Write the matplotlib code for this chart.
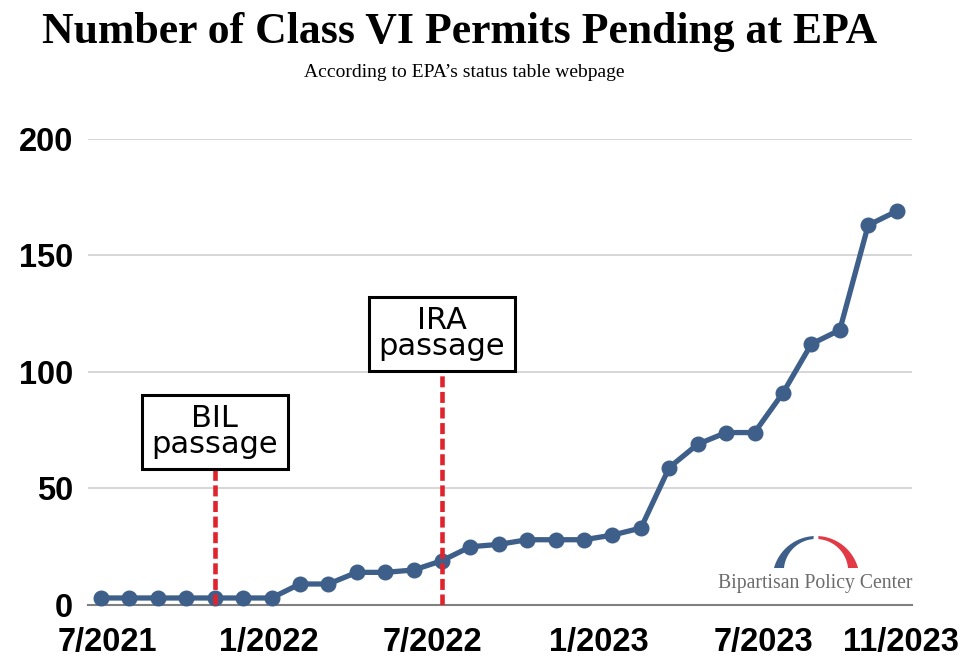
import matplotlib
matplotlib.use("Agg")
import matplotlib.pyplot as plt
import numpy as np
from matplotlib.patches import Polygon

# monthly counts, 7/2021 .. 11/2023
pending = [3, 3, 3, 3, 3, 3, 3, 9, 9, 14, 14, 15, 19, 25, 26, 28, 28, 28,
           30, 33, 59, 69, 74, 74, 91, 112, 118, 163, 169]
months = list(range(len(pending)))

tick_pos = [0.21, 5.91, 11.68, 17.52, 23.32, 28.14]
tick_labels = ["7/2021", "1/2022", "7/2022", "1/2023", "7/2023", "11/2023"]

events = ["BIL\npassage", "IRA\npassage"]
event_month = [4, 12]
event_top = [58, 100]

line_col = "#3e5f8a"
red = "#e0242e"

fig = plt.figure(figsize=(9.74, 6.67), dpi=100)
ax = fig.add_axes([0.0903, 0.093, 0.8457, 0.6986])

ax.plot(months, pending, color=line_col, lw=3.8, marker="o", ms=10.5,
        zorder=3, clip_on=False)

for lab, m, top in zip(events, event_month, event_top):
    ax.plot([m, m], [0, top], color=red, lw=3.3, ls=(0, (2.4, 1.0)), zorder=4)
    # raise the text so the box bottom sits on the top of the dashed line
    ax.annotate(lab, (m, top), xytext=(0, 11), textcoords="offset pixels",
                ha="center", va="bottom", fontsize=22, family="DejaVu Sans",
                linespacing=0.85, zorder=5,
                bbox=dict(boxstyle="square,pad=0.32", fc="white", ec="black", lw=2.2))

ax.set_xlim(-0.46, 28.53)
ax.set_ylim(0, 200)
ax.set_yticks([0, 50, 100, 150, 200])
ax.set_xticks(tick_pos)
ax.set_xticklabels(tick_labels)
ax.grid(axis="y", color="#d0d0d0", lw=1.2)
ax.set_axisbelow(True)
for s in ["top", "right", "left"]:
    ax.spines[s].set_visible(False)
ax.spines["bottom"].set_color("#808080")
ax.spines["bottom"].set_linewidth(1.5)
ax.spines["bottom"].set_zorder(2)
ax.tick_params(length=0, labelsize=23.5)
ax.tick_params(axis="x", pad=16)
ax.tick_params(axis="y", pad=10.5)
for t in ax.get_xticklabels() + ax.get_yticklabels():
    t.set_family("Liberation Sans")
    t.set_fontweight("bold")

fig.text(0.472, 0.952, "Number of Class VI Permits Pending at EPA",
         ha="center", va="center", fontsize=31.5, fontweight="bold",
         family="Liberation Serif")
fig.text(0.477, 0.892, "According to EPA\u2019s status table webpage",
         ha="center", va="center", fontsize=14, family="Liberation Serif")

# logo
fig.text(0.8375, 0.125, "Bipartisan Policy Center", ha="center", va="center",
         fontsize=14.2, family="Liberation Serif", color="#6b6b6b")
lax = fig.add_axes([770 / 974, 1 - 572 / 667, 92 / 974, 42 / 667])
lax.set_xlim(-46, 46)
lax.set_ylim(-4, 38)
lax.set_aspect("equal")
lax.axis("off")


def arch(t_out, t_in):
    to = np.radians(t_out)
    ti = np.radians(t_in)
    outer = np.c_[43.6 * np.cos(to), -11.6 + 43.6 * np.sin(to)]
    inner = np.c_[32.16 * np.cos(ti), -3.16 + 32.16 * np.sin(ti)][::-1]
    return np.vstack([outer, inner])


lax.add_patch(Polygon(arch(np.linspace(93, 164.6, 40), np.linspace(94.5, 174.4, 40)),
                      color="#3e5f8a", lw=0))
lax.add_patch(Polygon(arch(np.linspace(15.4, 87, 40), np.linspace(5.6, 85.5, 40)),
                      color="#e23a45", lw=0))

fig.savefig("out.png", dpi=100)
